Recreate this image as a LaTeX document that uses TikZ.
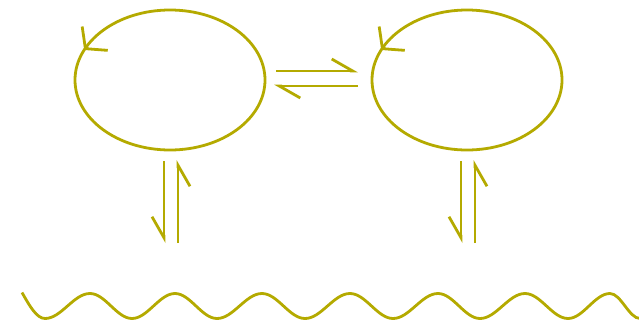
\documentclass[tikz,border=0pt]{standalone}
\usetikzlibrary{positioning,arrows.meta,shapes.geometric,calc}
\definecolor{olivey}{RGB}{180,170,0}

\begin{document}
\begin{tikzpicture}[
    x=1pt, y=1pt,
    cycle/.style={draw=olivey, line width=2.8pt, ellipse, minimum width=190pt, minimum height=140pt, inner sep=0pt, outer sep=0pt},
    ringtip/.style={draw=olivey, line width=2.8pt, -{Straight Barb[length=14pt, width=35pt]}, shorten <=15pt},
    harpl/.style={draw=olivey, line width=2.8pt, -{Straight Barb[harpoon, left, length=21pt, width=24pt]}},
    harpr/.style={draw=olivey, line width=2.8pt, -{Straight Barb[harpoon, right, length=21pt, width=24pt]}},
    wave/.style={draw=olivey, line width=2.8pt}
  ]
    \useasboundingbox (0,0) rectangle (639,325);
    \clip (0,0) rectangle (639,325);

    \node[cycle] (cycleL) at (170,245) {};
    \node[cycle, right=107pt of cycleL] (cycleR) {};

    % arrow heads on the two rings
    \coordinate (tipL) at ($(cycleL.center)+(154.6:95pt and 70pt)$);
    \coordinate (tipR) at ($(cycleR.center)+(154.6:95pt and 70pt)$);
    \draw[ringtip] ($(tipL)+(47:20pt)$) -- (tipL);
    \draw[ringtip] ($(tipR)+(47:20pt)$) -- (tipR);

    % equilibrium between the rings
    \draw[harpl] ([shift={(11pt,9pt)}]cycleL.east) -- ([shift={(-14pt,9pt)}]cycleR.west);
    \draw[harpl] ([shift={(-14pt,-6pt)}]cycleR.west) -- ([shift={(9pt,-6pt)}]cycleL.east);

    % down to the wave and back
    \coordinate (downL) at ([shift={(-6pt,-93pt)}]cycleL.south);
    \coordinate (upL) at ([shift={(8pt,-93pt)}]cycleL.south);
    \coordinate (downR) at ([shift={(-6pt,-93pt)}]cycleR.south);
    \coordinate (upR) at ([shift={(8pt,-93pt)}]cycleR.south);
    \draw[harpr] ([shift={(-6pt,-11pt)}]cycleL.south) -- (downL);
    \draw[harpr] (upL) -- ([shift={(8pt,-10pt)}]cycleL.south);
    \draw[harpr] ([shift={(-6pt,-11pt)}]cycleR.south) -- (downR);
    \draw[harpr] (upR) -- ([shift={(8pt,-10pt)}]cycleR.south);

    % wave
    \draw[wave] (22,32.5) sin (45,6.5)
      cos (67.5,19) sin (90,31.5) cos (111,19) sin (132,6.5)
      cos (153.5,19) sin (175,31.5) cos (196,19) sin (217,6.5)
      cos (239.5,19) sin (262,31.5) cos (283.5,19) sin (305,6.5)
      cos (327.5,19) sin (350,31.5) cos (371.5,19) sin (393,6.5)
      cos (415.5,19) sin (438,31.5) cos (459,19) sin (480,6.5)
      cos (502.5,19) sin (525,31.5) cos (546.5,19) sin (568,6.5)
      cos (589,19) sin (610,31.5) cos (625,19) sin (640,6.5);
  \end{tikzpicture}
\end{document}
